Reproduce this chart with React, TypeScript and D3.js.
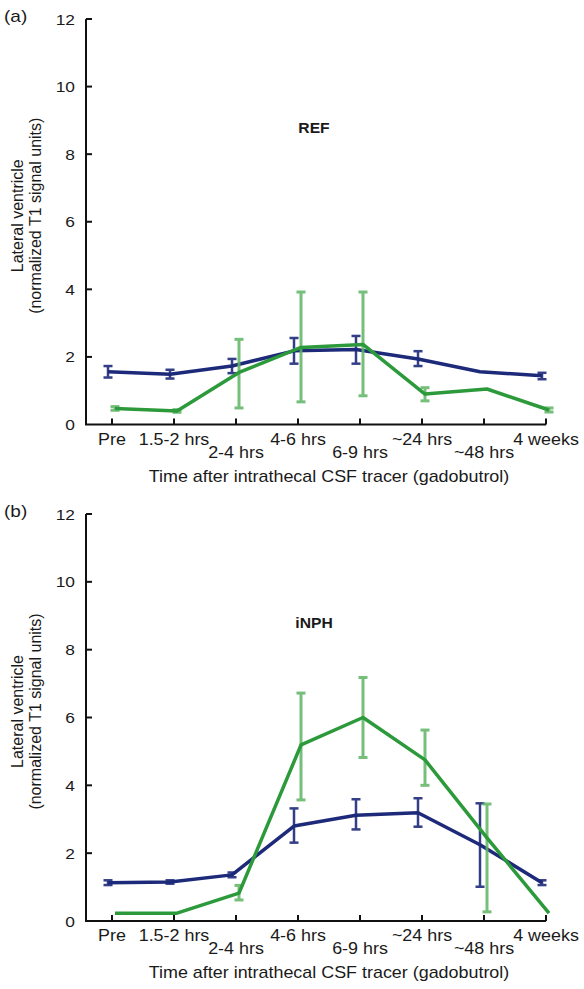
import React from "react";
import * as d3 from "d3";

// ---- data ----
const categories = ["Pre", "1.5-2 hrs", "2-4 hrs", "4-6 hrs", "6-9 hrs", "~24 hrs", "~48 hrs", "4 weeks"];
const lowLabelRow = [false, false, true, false, true, false, true, false];
const yTicks = [0, 2, 4, 6, 8, 10, 12];

const refBlue = [1.56, 1.49, 1.73, 2.18, 2.22, 1.94, 1.56, 1.44];
const refBlueLo = [1.39, 1.36, 1.52, 1.8, 1.8, 1.73, null, 1.34];
const refBlueHi = [1.73, 1.62, 1.94, 2.56, 2.62, 2.17, null, 1.53];
const refGreen = [0.47, 0.4, 1.54, 2.28, 2.37, 0.9, 1.05, 0.43];
const refGreenLo = [0.42, 0.36, 0.49, 0.67, 0.85, 0.7, null, 0.37];
const refGreenHi = [0.53, 0.44, 2.52, 3.92, 3.92, 1.09, null, 0.49];

const inphBlue = [1.13, 1.15, 1.36, 2.8, 3.12, 3.19, 2.25, 1.13];
const inphBlueLo = [1.06, 1.1, 1.29, 2.31, 2.7, 2.78, 1.01, 1.06];
const inphBlueHi = [1.2, 1.2, 1.43, 3.32, 3.59, 3.62, 3.47, 1.2];
const inphGreen = [0.23, 0.23, 0.82, 5.19, 6.0, 4.75, 2.45, 0.23];
const inphGreenLo = [null, null, 0.62, 3.57, 4.82, 4.0, 0.27, null];
const inphGreenHi = [null, null, 1.05, 6.72, 7.18, 5.63, 3.45, null];

const panels = [
  {
    tag: "(a)", title: "REF", top: 19, bottom: 424.5,
    blue: refBlue, blueLo: refBlueLo, blueHi: refBlueHi,
    green: refGreen, greenLo: refGreenLo, greenHi: refGreenHi,
  },
  {
    tag: "(b)", title: "iNPH", top: 514, bottom: 921,
    blue: inphBlue, blueLo: inphBlueLo, blueHi: inphBlueHi,
    green: inphGreen, greenLo: inphGreenLo, greenHi: inphGreenHi,
  },
];

const BLUE = "#1d2a7a";
const GREEN = "#2c9a3b";
const GREEN_ERR = "#5fb465";
const FONT = "Arial, 'Liberation Sans', sans-serif";
const SX = 1.12;
const TXT = "#1a1a1a";

const HText = ({ x, y, anchor = "middle", size = 16, weight = "normal", children }: any) => (
  <text
    transform={`translate(${x},${y}) scale(${SX},1)`}
    textAnchor={anchor}
    fontSize={size}
    fontWeight={weight}
    fontFamily={FONT}
    fill={TXT}
  >
    {children}
  </text>
);

const AXIS_X = 86;
const X0 = 112;
const X1 = 546;

function Panel({ p }: any) {
  const x = d3.scalePoint<string>().domain(categories).range([X0, X1]);
  const y = d3.scaleLinear().domain([0, 12]).range([p.bottom, p.top]);
  const blueDx = -4;
  const greenDx = 3;

  const line = (dx: number) =>
    d3
      .line<number>()
      .x((_, i) => (x(categories[i]) as number) + dx)
      .y((v) => y(v));

  const errBars = (lo: (number | null)[], hi: (number | null)[], dx: number, color: string, w: number, op: number) =>
    categories.map((c, i) => {
      const l = lo[i];
      const h = hi[i];
      if (l == null || h == null) return null;
      const cx = (x(c) as number) + dx;
      return (
        <g key={c} stroke={color} strokeWidth={w} opacity={op}>
          <line x1={cx} x2={cx} y1={y(l)} y2={y(h)} />
          <line x1={cx - 4.5} x2={cx + 4.5} y1={y(l)} y2={y(l)} />
          <line x1={cx - 4.5} x2={cx + 4.5} y1={y(h)} y2={y(h)} />
        </g>
      );
    });

  const midY = (p.top + p.bottom) / 2 - 6;

  return (
    <g>
      <HText x={4} y={p.top + 3} anchor="start" size={17}>{p.tag}</HText>
      <line x1={AXIS_X} x2={AXIS_X} y1={p.top} y2={p.bottom} stroke="#111" strokeWidth={2} />
      {yTicks.map((t) => (
        <g key={t}>
          {t > 0 && <line x1={AXIS_X} x2={AXIS_X + 6} y1={y(t)} y2={y(t)} stroke="#111" strokeWidth={2} />}
          <HText x={75} y={y(t) + 5.5} anchor="end" size={15.5}>{t}</HText>
        </g>
      ))}
      <line x1={AXIS_X - 1} x2={X1} y1={p.bottom} y2={p.bottom} stroke="#111" strokeWidth={2} />
      {categories.map((c, i) => (
        <g key={c}>
          <line x1={x(c)} x2={x(c)} y1={p.bottom - 6} y2={p.bottom} stroke="#111" strokeWidth={2} />
          <HText x={x(c) as number} y={p.bottom + (lowLabelRow[i] ? 33 : 20)} size={16}>
            {c}
          </HText>
        </g>
      ))}
      <HText x={329} y={p.bottom + 57} size={16}>
        Time after intrathecal CSF tracer (gadobutrol)
      </HText>
      <g transform={`translate(23,${midY}) rotate(-90)`}>
        <text textAnchor="middle" fontSize={16} fontFamily={FONT} fill={TXT}>Lateral ventricle</text>
      </g>
      <g transform={`translate(41,${midY}) rotate(-90)`}>
        <text textAnchor="middle" fontSize={16} fontFamily={FONT} fill={TXT}>(normalized T1 signal units)</text>
      </g>
      <HText x={314} y={p.top + 114} size={14} weight="bold">{p.title}</HText>
      <path d={line(blueDx)(p.blue) as string} fill="none" stroke={BLUE} strokeWidth={3.5} strokeLinejoin="round" />
      {errBars(p.blueLo, p.blueHi, blueDx, BLUE, 2.5, 0.9)}
      {errBars(p.greenLo, p.greenHi, greenDx, GREEN_ERR, 3, 0.85)}
      <path d={line(greenDx)(p.green) as string} fill="none" stroke={GREEN} strokeWidth={3.5} strokeLinejoin="round" />
    </g>
  );
}

export default function App() {
  return (
    <svg
      width={584}
      height={989}
      style={{ position: "absolute", left: 0, top: 0, background: "#fff" }}
    >
      <rect width={584} height={989} fill="#fff" />
      {panels.map((p) => (
        <Panel key={p.tag} p={p} />
      ))}
    </svg>
  );
}
